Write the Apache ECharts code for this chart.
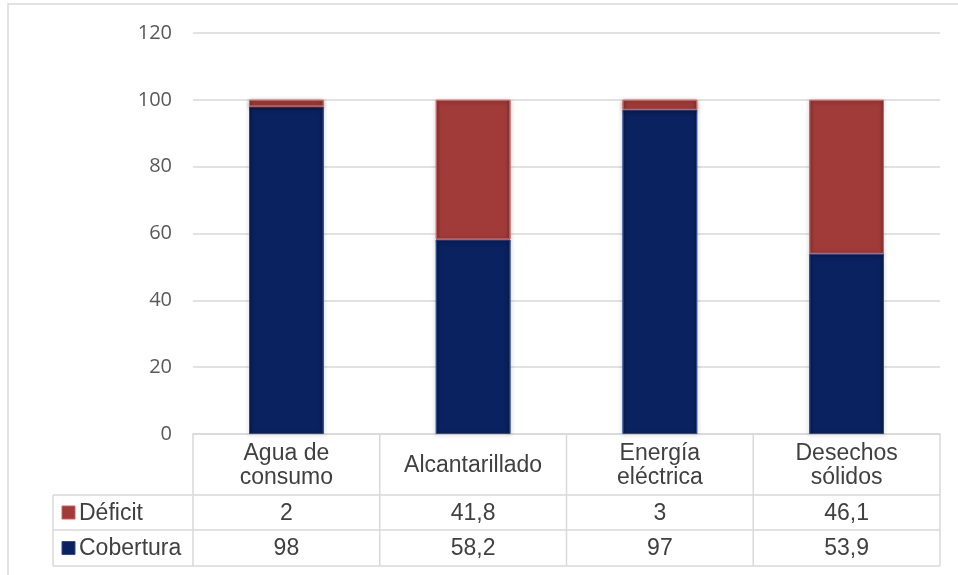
<!DOCTYPE html>
<html>
<head>
<meta charset="utf-8">
<script src="https://cdn.jsdelivr.net/npm/echarts@6/dist/echarts.min.js"></script>
<style>
html,body{margin:0;padding:0;background:#fff;}
#c{width:958px;height:575px;}
</style>
</head>
<body>
<div id="c"></div>
<script>
const categories = ['Agua de\nconsumo', 'Alcantarillado', 'Energía\neléctrica', 'Desechos\nsólidos'];
const seriesNames = ['Déficit', 'Cobertura'];
const deficit = [2, 41.8, 3, 46.1];
const cobertura = [98, 58.2, 97, 53.9];
const yMin = 0, yMax = 120, yStep = 20;

const GL = 193, GR = 940, GT = 33, GB = 434;
const ROW1 = 495, ROW2 = 530, ROW3 = 566, TL = 53;
const lineC = '#d9d9d9', textC = '#404040';
const blueFill = new echarts.graphic.LinearGradient(0, 0, 1, 0, [
  {offset: 0, color: '#081a4c'}, {offset: 0.06, color: '#0a2260'},
  {offset: 0.94, color: '#0a2260'}, {offset: 1, color: '#081a4c'}]);
const redFill = new echarts.graphic.LinearGradient(0, 0, 1, 0, [
  {offset: 0, color: '#8a3130'}, {offset: 0.06, color: '#a03b39'},
  {offset: 0.94, color: '#a03b39'}, {offset: 1, color: '#8a3130'}]);

const chart = echarts.init(document.getElementById('c'), null, {renderer: 'canvas'});
chart.setOption({
  animation: false,
  backgroundColor: '#fff',
  grid: {left: GL, right: 958 - GR, top: GT, bottom: 575 - GB},
  xAxis: {
    type: 'category', data: categories,
    axisLine: {show: true, lineStyle: {color: lineC, width: 1.5}},
    axisTick: {show: false}, axisLabel: {show: false}, splitLine: {show: false}
  },
  yAxis: {
    type: 'value', min: yMin, max: yMax, interval: yStep,
    axisLine: {show: false}, axisTick: {show: false},
    axisLabel: {color: '#595959', fontFamily: 'Open Sans', fontSize: 20, margin: 21},
    splitLine: {lineStyle: {color: lineC, width: 1.5}}
  },
  series: [
    {name: seriesNames[1], type: 'bar', stack: 's', data: cobertura, barWidth: '40%',
     itemStyle: {color: blueFill, borderColor: '#2d4a8f', borderWidth: 1,
       shadowBlur: 4, shadowColor: 'rgba(0,0,0,0.35)', shadowOffsetX: 0, shadowOffsetY: 1}},
    {name: seriesNames[0], type: 'bar', stack: 's', data: deficit, barWidth: '40%',
     itemStyle: {color: redFill, borderColor: '#c46563', borderWidth: 1,
       shadowBlur: 4, shadowColor: 'rgba(0,0,0,0.35)', shadowOffsetX: 0, shadowOffsetY: 1}}
  ]
});

function fmt(v) { return String(v).replace('.', ','); }

const g = [];
g.push({type: 'rect', shape: {x: 8, y: 4, width: 980, height: 600}, style: {fill: null, stroke: lineC, lineWidth: 1.5}, silent: true});
const colEdges = [GL];
const centers = categories.map((c, i) => chart.convertToPixel({xAxisIndex: 0}, i));
const colW = (GR - GL) / categories.length;
for (let i = 1; i <= categories.length; i++) colEdges.push(GL + colW * i);
colEdges.forEach(x => g.push({type: 'line', shape: {x1: x, y1: GB, x2: x, y2: ROW3}, style: {stroke: lineC, lineWidth: 1.5}, silent: true}));
g.push({type: 'line', shape: {x1: TL, y1: ROW1, x2: TL, y2: ROW3}, style: {stroke: lineC, lineWidth: 1.5}, silent: true});
[ROW1, ROW2, ROW3].forEach(y => g.push({type: 'line', shape: {x1: TL, y1: y, x2: GR, y2: y}, style: {stroke: lineC, lineWidth: 1.5}, silent: true}));
const fontF = 'Liberation Sans, Arial, sans-serif';
const fs = '23px ';
categories.forEach((c, i) => {
  g.push({type: 'text', x: centers[i], y: (GB + ROW1) / 2 + 1, style: {text: c, fill: textC, font: fs + fontF, align: 'center', verticalAlign: 'middle', lineHeight: 24}, silent: true});
});
const rows = [[seriesNames[0], deficit, redFill, '#c46563'], [seriesNames[1], cobertura, blueFill, '#2d4a8f']];
rows.forEach((r, k) => {
  const yc = k === 0 ? (ROW1 + ROW2) / 2 : (ROW2 + ROW3) / 2;
  g.push({type: 'rect', shape: {x: 62, y: yc - 6.5, width: 13, height: 13}, style: {fill: r[2], stroke: r[3], lineWidth: 1}, silent: true});
  g.push({type: 'text', x: 79, y: yc + 1, style: {text: r[0], fill: textC, font: fs + fontF, align: 'left', verticalAlign: 'middle'}, silent: true});
  r[1].forEach((v, i) => {
    g.push({type: 'text', x: centers[i], y: yc + 1, style: {text: fmt(v), fill: textC, font: fs + fontF, align: 'center', verticalAlign: 'middle'}, silent: true});
  });
});
chart.setOption({graphic: g});
</script>
</body>
</html>
